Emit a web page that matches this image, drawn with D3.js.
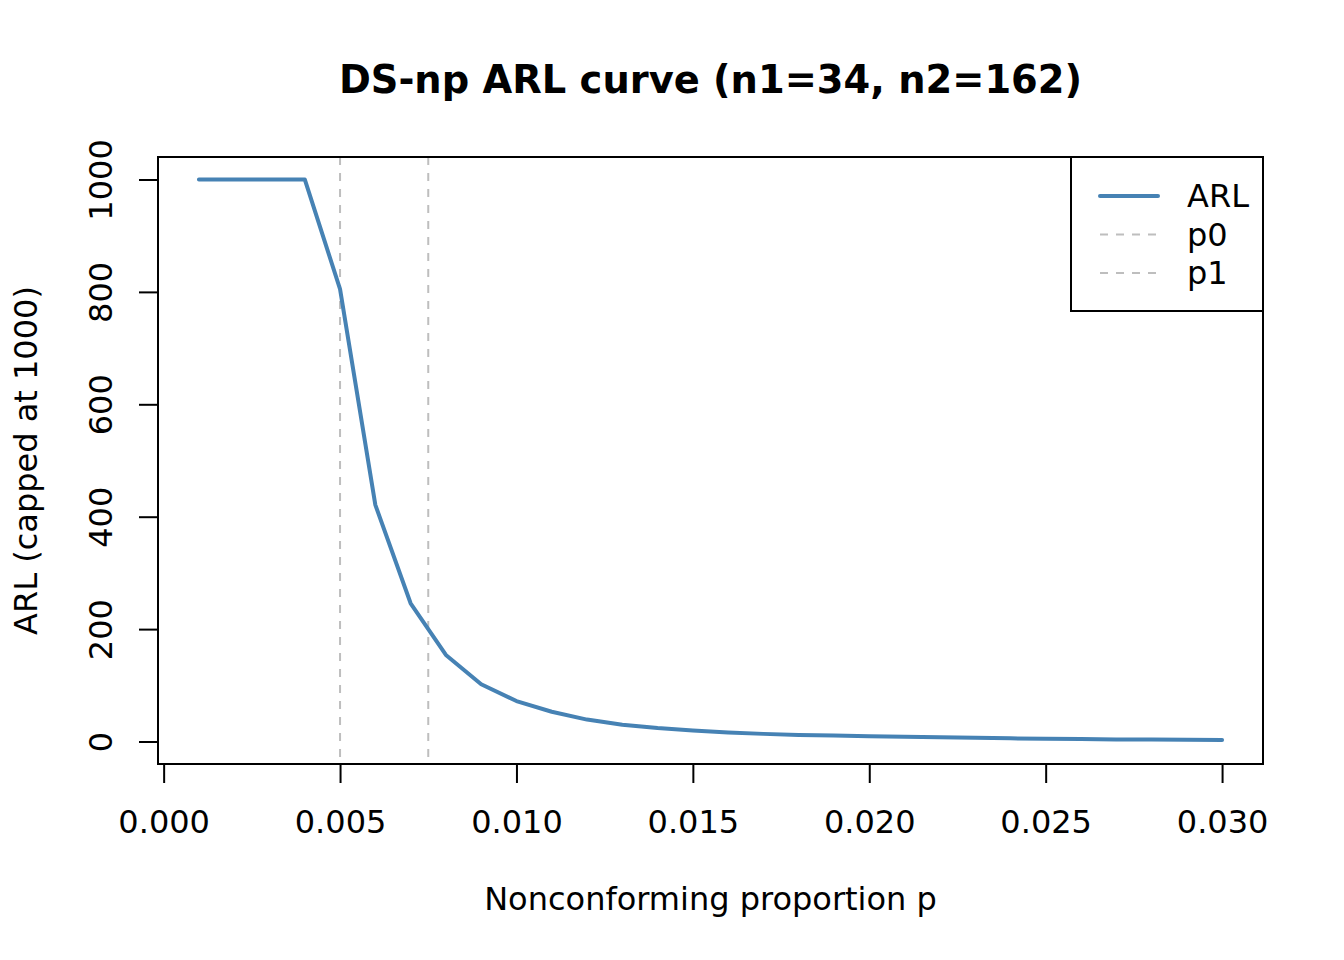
<!DOCTYPE html>
<html>
<head>
<meta charset="utf-8">
<script src="https://cdn.jsdelivr.net/npm/d3@7"></script>
<style>
  body { margin: 0; background: #fff; }
  text { font-family: "DejaVu Sans", sans-serif; fill: #000; }
</style>
</head>
<body>
<div id="chart"></div>
<script>
const width = 1344;
const height = 960;

// data
const pValues = [0.001, 0.002, 0.003, 0.004, 0.005, 0.006, 0.007, 0.008, 0.009, 0.010,
                 0.011, 0.012, 0.013, 0.014, 0.015, 0.016, 0.017, 0.018, 0.019, 0.020,
                 0.021, 0.022, 0.023, 0.024, 0.025, 0.026, 0.027, 0.028, 0.029, 0.030];
const arlValues = [1000, 1000, 1000, 1000, 805, 421, 246, 154, 102, 72,
                   53, 39, 30, 24, 19.5, 16, 13.6, 11.8, 10.5, 9.5,
                   8.4, 7.4, 6.5, 5.6, 4.9, 4.3, 3.8, 3.4, 3.0, 2.7];
const p0 = 0.005;
const p1 = 0.0075;
const xTicks = [0.000, 0.005, 0.010, 0.015, 0.020, 0.025, 0.030];
const yTicks = [0, 200, 400, 600, 800, 1000];
const legendLabels = ["ARL", "p0", "p1"];

const plot = { left: 158, right: 1263, top: 157, bottom: 764 };

const svg = d3.select("#chart")
    .append("svg")
    .attr("width", width)
    .attr("height", height);

// R style: range padded 4% each side
const xr = d3.extent(pValues);
const xpad = (xr[1] - xr[0]) * 0.04;
const x = d3.scaleLinear()
    .domain([xr[0] - xpad, xr[1] + xpad])
    .range([plot.left, plot.right]);

const y = d3.scaleLinear()
    .domain([-40, 1040])
    .range([plot.bottom, plot.top]);

/* ------------------------
   REFERENCE LINES
-------------------------*/
svg.selectAll("line.ref")
    .data([p0, p1])
    .enter()
    .append("line")
    .attr("class", "ref")
    .attr("x1", d => x(d))
    .attr("x2", d => x(d))
    .attr("y1", plot.top)
    .attr("y2", plot.bottom)
    .attr("stroke", "#bebebe")
    .attr("stroke-width", 2)
    .attr("stroke-dasharray", "8,8");

/* ------------------------
   ARL CURVE
-------------------------*/
const line = d3.line()
    .x((d, i) => x(pValues[i]))
    .y(d => y(d));

svg.append("path")
    .datum(arlValues)
    .attr("fill", "none")
    .attr("stroke", "steelblue")
    .attr("stroke-width", 4)
    .attr("stroke-linejoin", "round")
    .attr("stroke-linecap", "round")
    .attr("d", line);

// box
svg.append("rect")
    .attr("x", plot.left)
    .attr("y", plot.top)
    .attr("width", plot.right - plot.left)
    .attr("height", plot.bottom - plot.top)
    .attr("fill", "none")
    .attr("stroke", "#000")
    .attr("stroke-width", 2);

/* ------------------------
   AXES
-------------------------*/
const xAxis = d3.axisBottom(x)
    .tickValues(xTicks)
    .tickFormat(d3.format(".3f"))
    .tickSize(19)
    .tickPadding(27);

const gx = svg.append("g")
    .attr("transform", `translate(0,${plot.bottom})`)
    .call(xAxis);
gx.select(".domain")
    .attr("d", `M${x(xTicks[0])},0H${x(xTicks[xTicks.length - 1])}`)
    .attr("stroke-width", 2);
gx.selectAll(".tick line").attr("stroke-width", 2);
gx.selectAll(".tick text")
    .attr("font-size", 32)
    .attr("font-family", "DejaVu Sans");

const yAxis = d3.axisLeft(y)
    .tickValues(yTicks)
    .tickFormat(d3.format("d"))
    .tickSize(19);

const gy = svg.append("g")
    .attr("transform", `translate(${plot.left},0)`)
    .call(yAxis);
gy.select(".domain")
    .attr("d", `M0,${y(yTicks[0])}V${y(yTicks[yTicks.length - 1])}`)
    .attr("stroke-width", 2);
gy.selectAll(".tick line").attr("stroke-width", 2);
gy.selectAll(".tick text")
    .attr("font-size", 32)
    .attr("font-family", "DejaVu Sans")
    .attr("text-anchor", "middle")
    .attr("dy", 0)
    .attr("x", 0)
    .attr("transform", "translate(-46,0) rotate(-90)");

/* ------------------------
   TITLES
-------------------------*/
svg.append("text")
    .attr("x", (plot.left + plot.right) / 2)
    .attr("y", 93)
    .attr("text-anchor", "middle")
    .attr("font-size", 38.4)
    .attr("font-weight", "bold")
    .text("DS-np ARL curve (n1=34, n2=162)");

svg.append("text")
    .attr("x", (plot.left + plot.right) / 2)
    .attr("y", 910)
    .attr("text-anchor", "middle")
    .attr("font-size", 32)
    .text("Nonconforming proportion p");

svg.append("text")
    .attr("transform", `translate(37,${(plot.top + plot.bottom) / 2}) rotate(-90)`)
    .attr("text-anchor", "middle")
    .attr("font-size", 32)
    .text("ARL (capped at 1000)");

/* ------------------------
   LEGEND
-------------------------*/
const legend = svg.append("g");
legend.append("rect")
    .attr("x", 1071)
    .attr("y", plot.top)
    .attr("width", plot.right - 1071)
    .attr("height", 154)
    .attr("fill", "#fff")
    .attr("stroke", "#000")
    .attr("stroke-width", 2);

const items = legend.selectAll("g.item")
    .data(legendLabels)
    .enter()
    .append("g")
    .attr("class", "item")
    .attr("transform", (d, i) => `translate(0,${196 + i * 38.5})`);

items.append("line")
    .attr("x1", 1100)
    .attr("x2", 1158)
    .attr("stroke", (d, i) => i === 0 ? "steelblue" : "#bebebe")
    .attr("stroke-width", (d, i) => i === 0 ? 4 : 2)
    .attr("stroke-linecap", (d, i) => i === 0 ? "round" : "butt")
    .attr("stroke-dasharray", (d, i) => i === 0 ? null : "8,8");

items.append("text")
    .attr("x", 1187)
    .attr("y", 11)
    .attr("font-size", 32)
    .text(d => d);
</script>
</body>
</html>
